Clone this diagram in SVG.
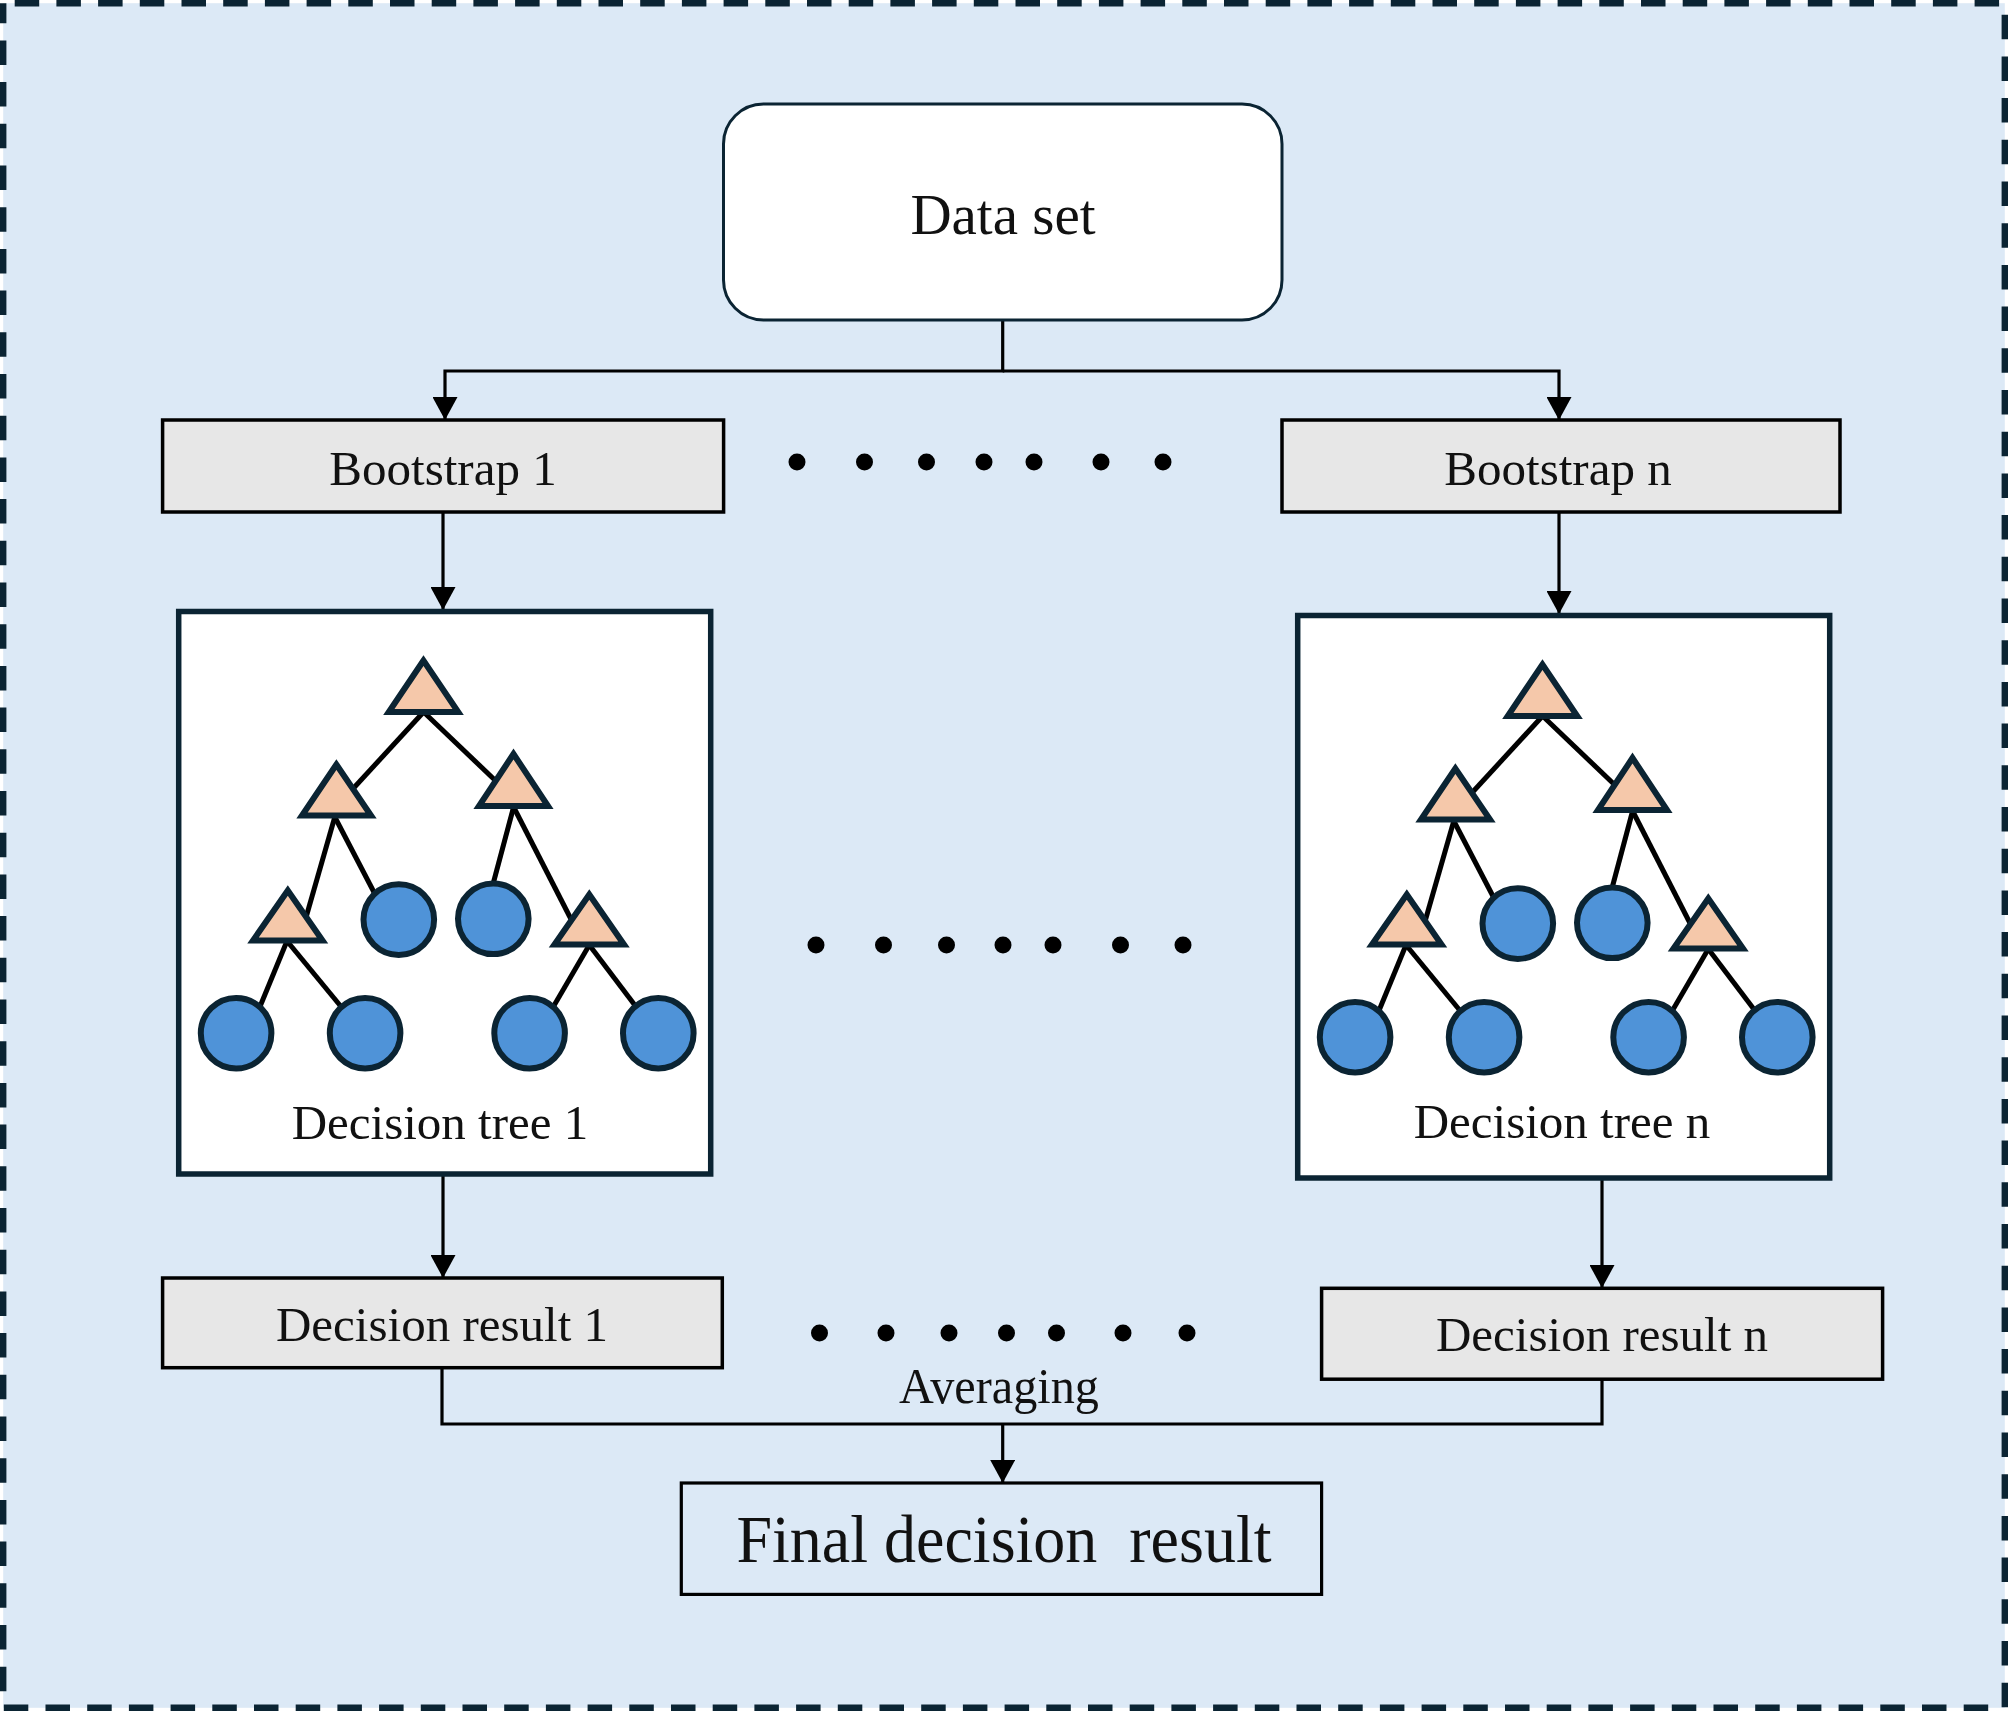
<svg xmlns="http://www.w3.org/2000/svg" xmlns:xlink="http://www.w3.org/1999/xlink" width="2008" height="1711" viewBox="0 0 2008 1711">
<style>
.txt{font-family:"Liberation Serif","Times New Roman",serif;fill:#111;text-anchor:middle}
.conn{fill:none;stroke:#000;stroke-width:3.2}
.gbox{fill:#e7e7e7;stroke:#000;stroke-width:3.5}
.tbox{fill:#fff;stroke:#0b2433;stroke-width:5.5}
.tri{fill:#f5c8aa;stroke:#0b2433;stroke-width:6;stroke-linejoin:miter}
.leaf{fill:#4f93d8;stroke:#0b2433;stroke-width:6}
.edge{stroke:#000;stroke-width:5;fill:none}
.dot{fill:#000}
</style>
<defs>
<marker id="ah" markerUnits="userSpaceOnUse" markerWidth="23" markerHeight="25" viewBox="0 0 23 25" refX="23" refY="12.5" orient="auto">
<path d="M0,0 L23,12.5 L0,25 z" fill="#000"/>
</marker>
<g id="treeShape">
<rect class="tbox" x="178.7" y="611.5" width="532" height="562.5"/>
<g>
<line class="edge" x1="423.6" y1="712" x2="350" y2="792"/>
<line class="edge" x1="423.6" y1="712" x2="499" y2="784"/>
<line class="edge" x1="334.8" y1="817" x2="305" y2="921"/>
<line class="edge" x1="334.8" y1="817" x2="377" y2="898"/>
<line class="edge" x1="513.6" y1="807" x2="492" y2="888"/>
<line class="edge" x1="513.6" y1="807" x2="574" y2="925"/>
<line class="edge" x1="287" y1="941" x2="259" y2="1009"/>
<line class="edge" x1="287" y1="941" x2="343" y2="1009"/>
<line class="edge" x1="589.3" y1="945" x2="552" y2="1009"/>
<line class="edge" x1="589.3" y1="945" x2="637" y2="1008"/>
</g>
<polygon class="tri" points="423.5,660.5 388.8,712 458.2,712"/>
<polygon class="tri" points="336.4,764.5 302,815.5 371,815.5"/>
<polygon class="tri" points="513.5,754 479,806 548,806"/>
<polygon class="tri" points="287.8,890.5 253,940.5 322.5,940.5"/>
<polygon class="tri" points="589.3,894.5 554.5,944.5 624,944.5"/>
<circle class="leaf" cx="398.8" cy="919.6" r="35.3"/>
<circle class="leaf" cx="493.3" cy="918.8" r="35.3"/>
<circle class="leaf" cx="236.1" cy="1033.2" r="35.3"/>
<circle class="leaf" cx="365.1" cy="1033.2" r="35.3"/>
<circle class="leaf" cx="529.6" cy="1033.2" r="35.3"/>
<circle class="leaf" cx="658.3" cy="1033.2" r="35.3"/>
</g>
</defs>
<rect x="0" y="0" width="2008" height="1711" fill="#fff"/>
<rect x="3.2" y="3.2" width="2001.6" height="1704.6" fill="#dce9f6" stroke="#0b2433" stroke-width="6.4" stroke-dasharray="24.5 17.2" stroke-dashoffset="30.2"/>

<g id="connectors">
<polyline class="conn" points="1002.7,320 1002.7,371 445,371 445,420" marker-end="url(#ah)"/>
<polyline class="conn" points="1002.7,371 1559,371 1559,420" marker-end="url(#ah)"/>
<line class="conn" x1="443" y1="512" x2="443" y2="610" marker-end="url(#ah)"/>
<line class="conn" x1="1559" y1="512" x2="1559" y2="614" stroke-width="1.8" marker-end="url(#ah)"/>
<line class="conn" x1="443" y1="1174" x2="443" y2="1278" marker-end="url(#ah)"/>
<line class="conn" x1="1602" y1="1179" x2="1602" y2="1288" marker-end="url(#ah)"/>
<polyline class="conn" points="442,1368 442,1424 1602,1424 1602,1379"/>
<line class="conn" x1="1002.7" y1="1424" x2="1002.7" y2="1483" marker-end="url(#ah)"/>
</g>

<g id="dataset">
<rect x="723.5" y="104" width="558.5" height="216" rx="40" fill="#fff" stroke="#0b2433" stroke-width="3"/>
<text class="txt" x="1003" y="234" font-size="57">Data set</text>
</g>

<g id="bootstrap1">
<rect class="gbox" x="162.6" y="420" width="561" height="92"/>
<text class="txt" x="443" y="485" font-size="49">Bootstrap 1</text>
</g>

<g id="bootstrapn">
<rect class="gbox" x="1282" y="420" width="558" height="92"/>
<text class="txt" x="1558" y="485" font-size="49">Bootstrap n</text>
</g>

<g id="dots1">
<circle class="dot" cx="797" cy="462" r="8.5"/>
<circle class="dot" cx="864.5" cy="462" r="8.5"/>
<circle class="dot" cx="926.5" cy="462" r="8.5"/>
<circle class="dot" cx="984" cy="462" r="8.5"/>
<circle class="dot" cx="1034" cy="462" r="8.5"/>
<circle class="dot" cx="1101" cy="462" r="8.5"/>
<circle class="dot" cx="1163" cy="462" r="8.5"/>
</g>

<g id="tree1">
<use xlink:href="#treeShape"/>
<text class="txt" x="440" y="1139" font-size="49">Decision tree 1</text>
</g>

<g id="treen">
<use xlink:href="#treeShape" transform="translate(1119,4)"/>
<text class="txt" x="1562" y="1138" font-size="49">Decision tree n</text>
</g>

<g id="dots2">
<circle class="dot" cx="816" cy="945" r="8.5"/>
<circle class="dot" cx="883.5" cy="945" r="8.5"/>
<circle class="dot" cx="946.5" cy="945" r="8.5"/>
<circle class="dot" cx="1003" cy="945" r="8.5"/>
<circle class="dot" cx="1053" cy="945" r="8.5"/>
<circle class="dot" cx="1120.5" cy="945" r="8.5"/>
<circle class="dot" cx="1183" cy="945" r="8.5"/>
</g>

<g id="result1">
<rect class="gbox" x="162.6" y="1278" width="559.7" height="89.7"/>
<text class="txt" x="442" y="1341" font-size="49">Decision result 1</text>
</g>

<g id="resultn">
<rect class="gbox" x="1321.6" y="1288.3" width="561" height="90.9"/>
<text class="txt" x="1602" y="1351" font-size="49">Decision result n</text>
</g>

<g id="dots3">
<circle class="dot" cx="819.5" cy="1333" r="8.5"/>
<circle class="dot" cx="886" cy="1333" r="8.5"/>
<circle class="dot" cx="949" cy="1333" r="8.5"/>
<circle class="dot" cx="1006.5" cy="1333" r="8.5"/>
<circle class="dot" cx="1056.5" cy="1333" r="8.5"/>
<circle class="dot" cx="1123" cy="1333" r="8.5"/>
<circle class="dot" cx="1187" cy="1333" r="8.5"/>
</g>

<text class="txt" x="999" y="1403" font-size="51" textLength="200" lengthAdjust="spacingAndGlyphs">Averaging</text>

<g id="final">
<rect x="681.3" y="1483" width="640.3" height="111.4" fill="none" stroke="#000" stroke-width="3.2"/>
<text class="txt" x="1004" y="1562" font-size="67" textLength="535" lengthAdjust="spacingAndGlyphs">Final decision&#160; result</text>
</g>
</svg>
